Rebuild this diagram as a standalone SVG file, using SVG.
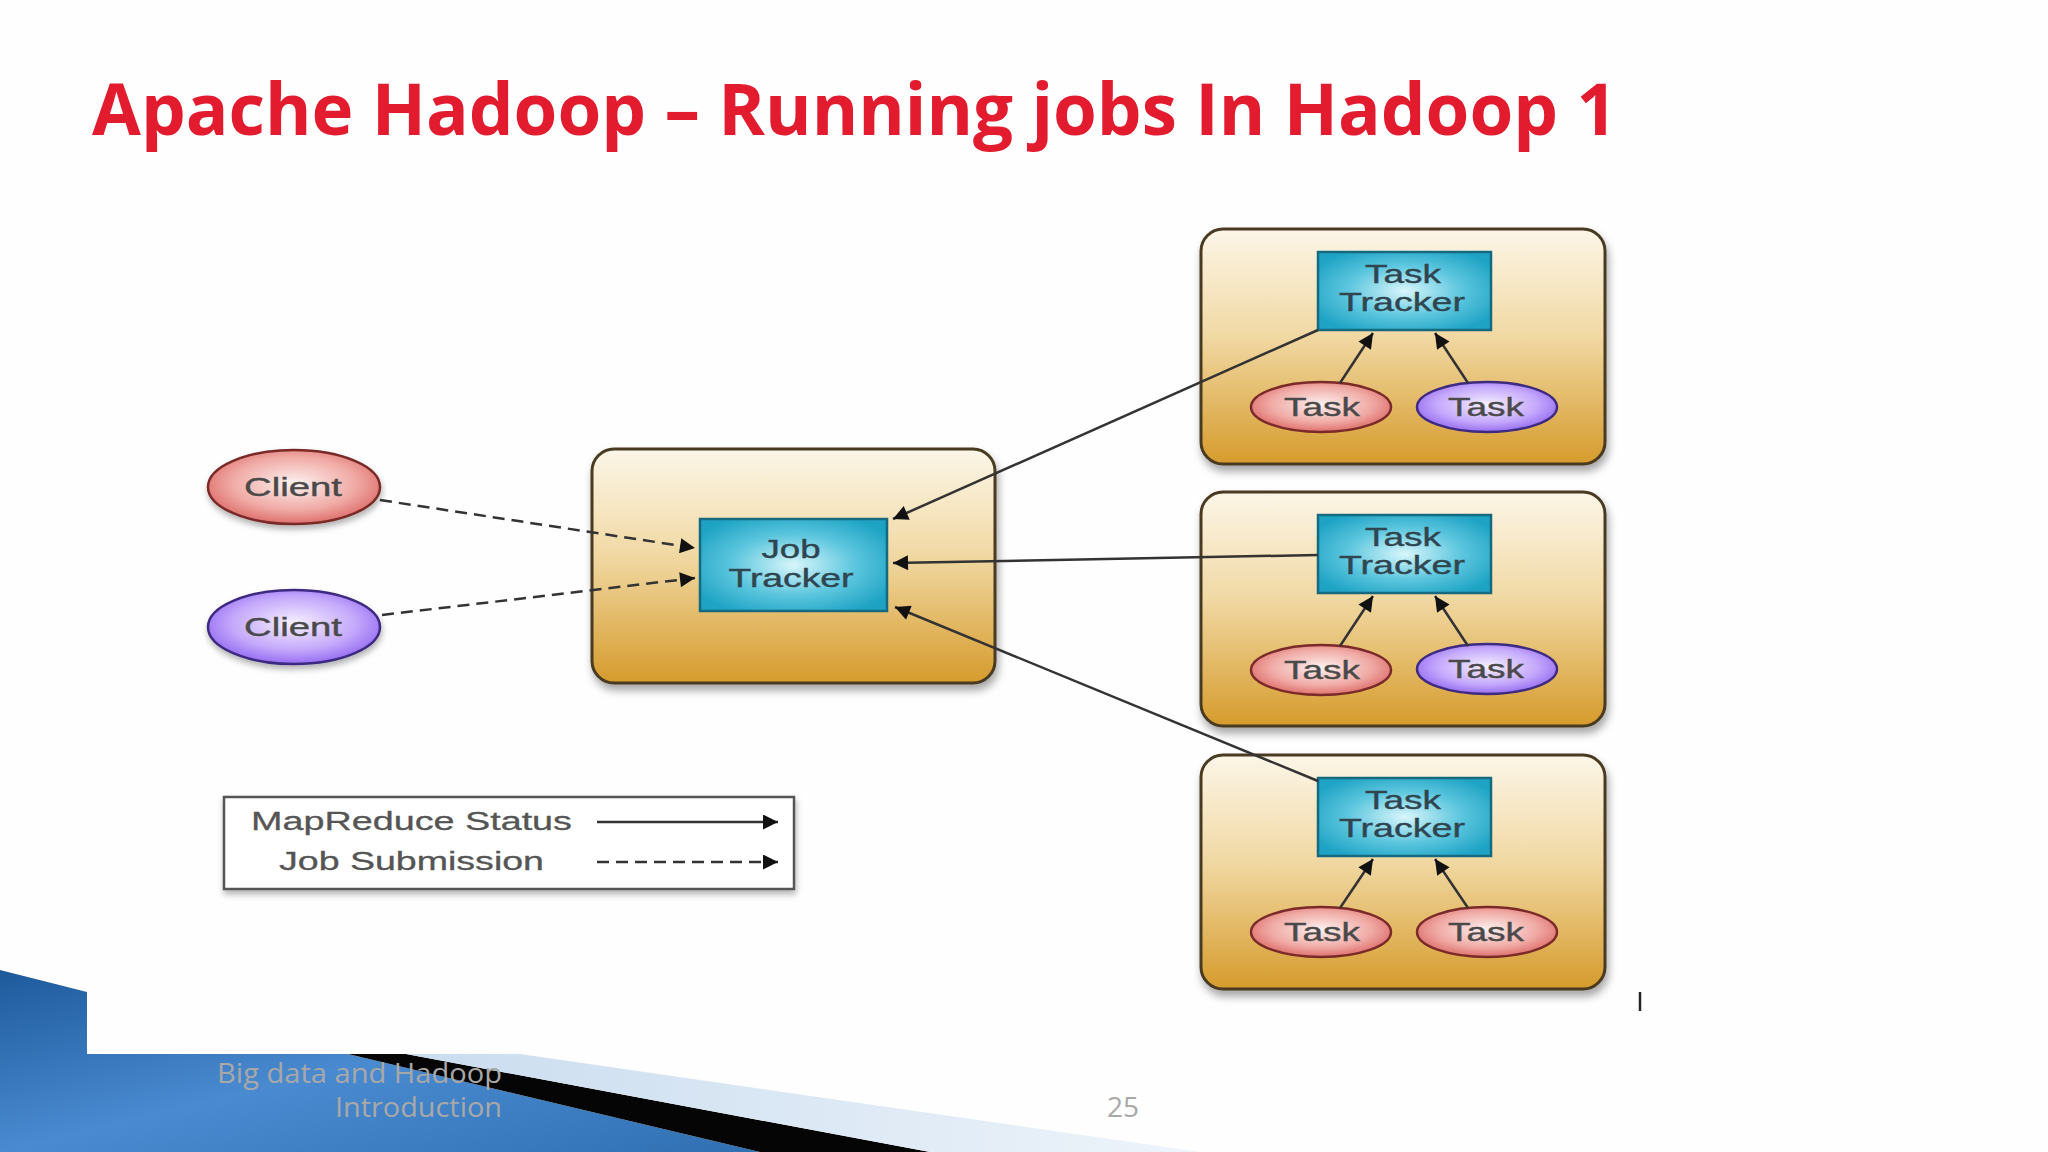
<svg xmlns="http://www.w3.org/2000/svg" width="2048" height="1152" viewBox="0 0 2048 1152">
<defs>
<linearGradient id="gold" x1="0" y1="0" x2="0" y2="1">
<stop offset="0" stop-color="#fcf6e8"/>
<stop offset="0.45" stop-color="#f1d9a4"/>
<stop offset="1" stop-color="#d69b2c"/>
</linearGradient>
<radialGradient id="teal" cx="0.5" cy="0.5" r="0.6">
<stop offset="0" stop-color="#d8f6fb"/>
<stop offset="0.55" stop-color="#5cc6de"/>
<stop offset="1" stop-color="#1ea3c4"/>
</radialGradient>
<radialGradient id="red" cx="0.5" cy="0.45" r="0.6">
<stop offset="0" stop-color="#fdf1ef"/>
<stop offset="0.6" stop-color="#f0aaa5"/>
<stop offset="1" stop-color="#d9605e"/>
</radialGradient>
<radialGradient id="purple" cx="0.5" cy="0.45" r="0.6">
<stop offset="0" stop-color="#f6f0ff"/>
<stop offset="0.6" stop-color="#c4a8fb"/>
<stop offset="1" stop-color="#8a5ef0"/>
</radialGradient>
<linearGradient id="blue" x1="0" y1="0" x2="1" y2="1">
<stop offset="0" stop-color="#1d5a9c"/>
<stop offset="0.5" stop-color="#4a8ad0"/>
<stop offset="1" stop-color="#2f6fb2"/>
</linearGradient>
<linearGradient id="pale" x1="0" y1="0" x2="1" y2="0">
<stop offset="0" stop-color="#c9dcef"/>
<stop offset="1" stop-color="#eef4fa"/>
</linearGradient>
<filter id="sh" x="-10%" y="-10%" width="125%" height="130%">
<feDropShadow dx="2" dy="6" stdDeviation="4" flood-color="#000" flood-opacity="0.35"/>
</filter>
<filter id="shs" x="-10%" y="-10%" width="125%" height="140%">
<feDropShadow dx="1" dy="4" stdDeviation="3" flood-color="#000" flood-opacity="0.3"/>
</filter>
<marker id="arr" viewBox="0 0 10 10" refX="10" refY="5" markerWidth="7" markerHeight="6" markerUnits="strokeWidth" orient="auto">
<path d="M0,0 L10,5 L0,10 z" fill="#111"/>
</marker>
<style>
.node{fill:url(#gold);stroke:#4a3a20;stroke-width:3;}
.tr{fill:url(#teal);stroke:#166a80;stroke-width:2.5;}
.er{fill:url(#red);stroke:#7a2a28;stroke-width:2.5;}
.ep{fill:url(#purple);stroke:#3e2a80;stroke-width:2.5;}
.lbl{font-family:"Liberation Sans",Arial,sans-serif;font-size:26px;fill:#2f4650;text-anchor:middle;stroke:#2f4650;stroke-width:0.4;}
.el{font-family:"Liberation Sans",Arial,sans-serif;font-size:26px;fill:#4a4a4a;text-anchor:middle;stroke:#4a4a4a;stroke-width:0.4;}
.c{fill:none;stroke:#333;stroke-width:2.5;marker-end:url(#arr);}
.d{stroke-dasharray:12 7;}
.leg{font-family:"Liberation Sans",Arial,sans-serif;font-size:26px;fill:#555;stroke:#555;stroke-width:0.3;}
.foot{font-family:"Open Sans","Liberation Sans",sans-serif;font-size:28px;fill:#a8a8a8;}
</style>
</defs>
<rect width="2048" height="1152" fill="#fefefe"/>

<!-- footer decoration -->
<g id="footer">
<polygon points="0,970 87,992 87,1054 348,1054 760,1152 0,1152" fill="url(#blue)"/>
<polygon points="348,1054 406,1054 930,1152 760,1152" fill="#050505"/>
<polygon points="406,1054 520,1054 1200,1152 930,1152" fill="url(#pale)"/>
<text class="foot" x="217" y="1083" textLength="285" lengthAdjust="spacingAndGlyphs">Big data and Hadoop</text>
<text class="foot" x="335" y="1117" textLength="167" lengthAdjust="spacingAndGlyphs">Introduction</text>
<text class="foot" x="1123" y="1117" text-anchor="middle" fill="#999">25</text>
</g>

<text id="title" x="92" y="135" font-family="'Open Sans','Liberation Sans',sans-serif" font-weight="bold" font-size="72" fill="#e21b2f" textLength="1525" lengthAdjust="spacingAndGlyphs">Apache Hadoop – Running jobs In Hadoop 1</text>

<!-- Job Tracker node -->
<g id="jobtracker-node">
<rect class="node" x="592" y="449" width="403" height="234" rx="22" filter="url(#sh)"/>
<rect class="tr" x="700" y="519" width="187" height="92"/>
<text class="lbl" x="791" y="558" textLength="59" lengthAdjust="spacingAndGlyphs">Job</text>
<text class="lbl" x="791" y="587" textLength="125" lengthAdjust="spacingAndGlyphs">Tracker</text>
</g>

<g id="client1">
<ellipse class="er" cx="294" cy="487" rx="86" ry="37" filter="url(#shs)"/>
<text class="el" x="293" y="496" textLength="98" lengthAdjust="spacingAndGlyphs">Client</text>
</g>
<g id="client2">
<ellipse class="ep" cx="294" cy="627" rx="86" ry="37" filter="url(#shs)"/>
<text class="el" x="293" y="636" textLength="98" lengthAdjust="spacingAndGlyphs">Client</text>
</g>

<!-- Task tracker nodes -->
<g id="tasktracker1">
<rect class="node" x="1201" y="229" width="404" height="235" rx="22" filter="url(#sh)"/>
<rect class="tr" x="1318" y="252" width="173" height="78"/>
<text class="lbl" x="1403" y="283" textLength="76" lengthAdjust="spacingAndGlyphs">Task</text>
<text class="lbl" x="1402" y="311" textLength="126" lengthAdjust="spacingAndGlyphs">Tracker</text>
<ellipse class="er" cx="1321" cy="407" rx="70" ry="25"/>
<text class="el" x="1322" y="416" textLength="76" lengthAdjust="spacingAndGlyphs">Task</text>
<ellipse class="ep" cx="1487" cy="407" rx="70" ry="25"/>
<text class="el" x="1486" y="416" textLength="76" lengthAdjust="spacingAndGlyphs">Task</text>
</g>
<g id="tasktracker2">
<rect class="node" x="1201" y="492" width="404" height="234" rx="22" filter="url(#sh)"/>
<rect class="tr" x="1318" y="515" width="173" height="78"/>
<text class="lbl" x="1403" y="546" textLength="76" lengthAdjust="spacingAndGlyphs">Task</text>
<text class="lbl" x="1402" y="574" textLength="126" lengthAdjust="spacingAndGlyphs">Tracker</text>
<ellipse class="er" cx="1321" cy="670" rx="70" ry="25"/>
<text class="el" x="1322" y="679" textLength="76" lengthAdjust="spacingAndGlyphs">Task</text>
<ellipse class="ep" cx="1487" cy="669" rx="70" ry="25"/>
<text class="el" x="1486" y="678" textLength="76" lengthAdjust="spacingAndGlyphs">Task</text>
</g>
<g id="tasktracker3">
<rect class="node" x="1201" y="755" width="404" height="234" rx="22" filter="url(#sh)"/>
<rect class="tr" x="1318" y="778" width="173" height="78"/>
<text class="lbl" x="1403" y="809" textLength="76" lengthAdjust="spacingAndGlyphs">Task</text>
<text class="lbl" x="1402" y="837" textLength="126" lengthAdjust="spacingAndGlyphs">Tracker</text>
<ellipse class="er" cx="1321" cy="932" rx="70" ry="25"/>
<text class="el" x="1322" y="941" textLength="76" lengthAdjust="spacingAndGlyphs">Task</text>
<ellipse class="er" cx="1487" cy="932" rx="70" ry="25"/>
<text class="el" x="1486" y="941" textLength="76" lengthAdjust="spacingAndGlyphs">Task</text>
</g>

<!-- connectors -->
<g id="connectors">
<line class="c d" x1="380" y1="500" x2="695" y2="548"/>
<line class="c d" x1="382" y1="615" x2="695" y2="578"/>
<line class="c" x1="1318" y1="330" x2="893" y2="519"/>
<line class="c" x1="1318" y1="555" x2="893" y2="563"/>
<line class="c" x1="1318" y1="781" x2="895" y2="607"/>
<line class="c" x1="1340" y1="383" x2="1373" y2="333"/>
<line class="c" x1="1468" y1="383" x2="1435" y2="333"/>
<line class="c" x1="1340" y1="646" x2="1373" y2="596"/>
<line class="c" x1="1468" y1="646" x2="1435" y2="596"/>
<line class="c" x1="1340" y1="908" x2="1373" y2="859"/>
<line class="c" x1="1468" y1="908" x2="1435" y2="859"/>
</g>

<!-- legend -->
<g id="legend">
<rect x="224" y="797" width="570" height="92" fill="#fff" stroke="#555" stroke-width="2.5" filter="url(#shs)"/>
<text class="leg" x="251" y="830" textLength="321" lengthAdjust="spacingAndGlyphs">MapReduce Status</text>
<text class="leg" x="279" y="870" textLength="265" lengthAdjust="spacingAndGlyphs">Job Submission</text>
<line class="c" x1="597" y1="822" x2="778" y2="822"/>
<line class="c d" x1="597" y1="862" x2="778" y2="862"/>
</g>

<line id="mark" x1="1640" y1="992" x2="1640" y2="1011" stroke="#222" stroke-width="2.5"/>
</svg>
